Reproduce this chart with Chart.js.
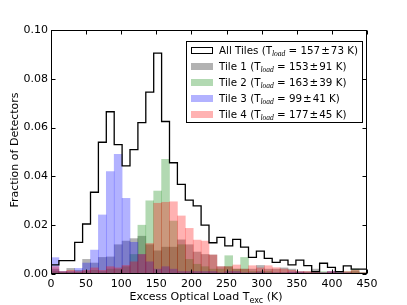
<!DOCTYPE html>
<html>
<head>
<meta charset="utf-8">
<script src="https://cdn.jsdelivr.net/npm/chart.js@4/dist/chart.umd.min.js"></script>
<style>
html,body{margin:0;padding:0;background:#fff;}
#wrap{width:407px;height:305px;position:relative;}
</style>
</head>
<body>
<div id="wrap"><canvas id="c" width="407" height="305"></canvas></div>
<script>
// ---- data (fraction of detectors per 11.25 K bin, 0 .. 450 K) ----
const binStart = 0;
const binWidth = 11.25;
const xTicks = [0, 50, 100, 150, 200, 250, 300, 350, 400, 450];
const yTicks = [0.00, 0.02, 0.04, 0.06, 0.08, 0.10];

const allTiles = [0.013, 0.0037, 0.0055, 0.0055, 0.013, 0.0205, 0.0335, 0.054, 0.0665, 0.053,
                  0.0443, 0.051, 0.062, 0.0745, 0.0905, 0.0625, 0.0456, 0.0367, 0.0303, 0.0279,
                  0.020, 0.0128, 0.015, 0.0115, 0.0142, 0.011, 0.0068, 0.0094, 0.0064, 0.0048,
                  0.0057, 0.0037, 0.0057, 0.0034, 0.001, 0.0044, 0.0027, 0.001, 0.0033, 0.002];
const tile1 = [0.002, 0.001, 0.0023, 0.0015, 0.006, 0.0045, 0.0068, 0.007, 0.012, 0.0135,
               0.0145, 0.0155, 0.012, 0.0095, 0.011, 0.011, 0.014, 0.012, 0.009, 0.008,
               0.0078, 0.003, 0.003, 0.002, 0.002, 0.002, 0.0035, 0.002, 0.002, 0.0025,
               0.002, 0.001, 0.001, 0.002, 0.0005, 0.001, 0.001, 0.0005, 0.001, 0.0005];
const tile2 = [0.001, 0.0007, 0.0007, 0.0007, 0.001, 0.0015, 0.001, 0.002, 0.002, 0.003,
               0.008, 0.020, 0.030, 0.034, 0.047, 0.0217, 0.012, 0.006, 0.004, 0.003,
               0.002, 0.002, 0.0075, 0.002, 0.0068, 0.001, 0.001, 0.001, 0.0005, 0.0005,
               0.0005, 0.0005, 0.0005, 0.0005, 0.001, 0.0005, 0.0005, 0.001, 0.002, 0.0005];
const tile3 = [0.0067, 0.001, 0.001, 0.0023, 0.0045, 0.0098, 0.0242, 0.042, 0.049, 0.031,
               0.013, 0.008, 0.005, 0.002, 0.003, 0.002, 0.001, 0.001, 0.001, 0.001,
               0.001, 0.0005, 0.001, 0.001, 0.0005, 0.0005, 0.0008, 0.0005, 0.0005, 0.0005,
               0.0008, 0.0008, 0.0005, 0.0005, 0.0005, 0.001, 0.0005, 0.0005, 0, 0];
const tile4 = [0.003, 0.001, 0.0015, 0.001, 0.0015, 0.0025, 0.0015, 0.003, 0.0025, 0.0035,
               0.005, 0.008, 0.0125, 0.029, 0.0294, 0.0296, 0.0238, 0.0187, 0.0139, 0.0135,
               0.0078, 0.003, 0.003, 0.0037, 0.002, 0.0034, 0.0025, 0.0034, 0.0026, 0.002,
               0.0015, 0.001, 0.001, 0.001, 0.0005, 0.001, 0.0005, 0.001, 0.0015, 0.0005];

const legendLabels = [
  ['All Tiles (T', 'load', ' = 157\u200a\u00b1\u200a73 K)'],
  ['Tile 1 (T', 'load', ' = 153\u200a\u00b1\u200a91 K)'],
  ['Tile 2 (T', 'load', ' = 163\u200a\u00b1\u200a39 K)'],
  ['Tile 3 (T', 'load', ' = 99\u200a\u00b1\u200a41 K)'],
  ['Tile 4 (T', 'load', ' = 177\u200a\u00b1\u200a45 K)']
];
const xTitle = ['Excess Optical Load T', 'exc', ' (K)'];
const yTitle = 'Fraction of Detectors';

// ---- build library data ----
const centers = allTiles.map((_, i) => binStart + binWidth * (i + 0.5));
const toBars = arr => arr.map((v, i) => ({x: centers[i], y: v}));
const stepPts = allTiles.map((v, i) => ({x: binStart + binWidth * i, y: v}));
stepPts.push({x: binStart + binWidth * allTiles.length, y: allTiles[allTiles.length - 1]});

const colors = ['rgba(0,0,0,0.3)', 'rgba(0,128,0,0.3)', 'rgba(0,0,255,0.3)', 'rgba(255,0,0,0.3)'];
const SANS = '"DejaVu Sans", sans-serif';
const FS = 11;

const barDs = (arr, i) => ({
  type: 'bar', data: toBars(arr), backgroundColor: colors[i], borderWidth: 0,
  barPercentage: 1.0, categoryPercentage: 1.0, grouped: false, order: 4 - i
});

const overlay = {
  id: 'overlay',
  afterDraw(chart) {
    const {ctx, chartArea: a, scales: {x, y}} = chart;
    ctx.save();
    ctx.strokeStyle = '#000';
    ctx.lineWidth = 1;
    const L = Math.round(a.left) + 0.5, R = Math.round(a.right) - 0.5;
    const T = Math.round(a.top) + 0.5, B = Math.round(a.bottom) - 0.5;
    ctx.strokeRect(L, T, R - L, B - T);
    const tl = 4;
    ctx.beginPath();
    xTicks.forEach(v => {
      const px = Math.round(x.getPixelForValue(v)) + 0.5;
      ctx.moveTo(px, B); ctx.lineTo(px, B - tl);
      ctx.moveTo(px, T); ctx.lineTo(px, T + tl);
    });
    yTicks.forEach(v => {
      const py = Math.round(y.getPixelForValue(v)) + 0.5;
      ctx.moveTo(L, py); ctx.lineTo(L + tl, py);
      ctx.moveTo(R, py); ctx.lineTo(R - tl, py);
    });
    ctx.stroke();

    const drawSub = (parts, x0, yb, size, subFont, dy) => {
      let cx = x0;
      ctx.textBaseline = 'alphabetic';
      ctx.textAlign = 'left';
      parts.forEach((p, k) => {
        if (k === 1) {
          ctx.font = subFont;
          ctx.fillText(p, cx, yb + dy);
        } else {
          ctx.font = `${size}px ${SANS}`;
          ctx.fillText(p, cx, yb);
        }
        cx += ctx.measureText(p).width;
      });
      return cx - x0;
    };
    const measureSub = (parts, size, subFont) => {
      let w = 0;
      parts.forEach((p, k) => {
        ctx.font = k === 1 ? subFont : `${size}px ${SANS}`;
        w += ctx.measureText(p).width;
      });
      return w;
    };
    ctx.fillStyle = '#000';
    // x title
    const xsub = `8px ${SANS}`;
    const xw = measureSub(xTitle, FS, xsub);
    drawSub(xTitle, 206 - xw / 2, 300, FS, xsub, 2.5);
    // y title
    ctx.save();
    ctx.translate(15, 150);
    ctx.rotate(-Math.PI / 2);
    ctx.font = `${FS}px ${SANS}`;
    ctx.textAlign = 'center';
    ctx.textBaseline = 'middle';
    ctx.fillText(yTitle, 0, 0);
    ctx.restore();

    // legend
    const lx = 186.5, ly = 41.5, lw = 176, lh = 81;
    ctx.fillStyle = '#fff';
    ctx.fillRect(lx, ly, lw, lh);
    ctx.strokeStyle = '#000';
    ctx.strokeRect(lx, ly, lw, lh);
    const lsub = `italic 7.5px "Liberation Serif", serif`;
    legendLabels.forEach((parts, i) => {
      const cy = 50 + i * 16.1;
      const hx = 191, hw = 21, hh = 6;
      if (i === 0) {
        ctx.strokeStyle = '#000';
        ctx.lineWidth = 1;
        ctx.strokeRect(hx + 0.5, Math.round(cy - hh / 2) + 0.5, hw, hh);
      } else {
        ctx.fillStyle = colors[i - 1];
        ctx.fillRect(hx, Math.round(cy - hh / 2), hw + 1, hh + 1);
      }
      ctx.fillStyle = '#000';
      drawSub(parts, 219, cy + 3.8, 10.3, lsub, 2);
    });
    ctx.restore();
  }
};

new Chart(document.getElementById('c'), {
  data: {
    datasets: [
      {type: 'line', data: stepPts, stepped: 'after', borderColor: '#000', borderWidth: 1.3,
       pointRadius: 0, fill: false, order: 0, borderJoinStyle: 'miter'},
      barDs(tile1, 0), barDs(tile2, 1), barDs(tile3, 2), barDs(tile4, 3)
    ]
  },
  options: {
    responsive: false,
    animation: false,
    events: [],
    layout: {padding: {top: 30, right: 40, left: 0, bottom: 0}},
    plugins: {legend: {display: false}, tooltip: {enabled: false}},
    scales: {
      x: {
        type: 'linear', min: 0, max: 450, offset: false,
        afterBuildTicks: s => { s.ticks = xTicks.map(v => ({value: v})); },
        afterFit: s => { s.height = 31; },
        grid: {display: false, drawTicks: false}, border: {display: false},
        ticks: {color: '#000', padding: 4, maxRotation: 0, font: {family: SANS, size: FS},
                callback: v => String(v)}
      },
      y: {
        min: 0, max: 0.1,
        afterBuildTicks: s => { s.ticks = yTicks.map(v => ({value: v})); },
        afterFit: s => { s.width = 51; },
        grid: {display: false, drawTicks: false}, border: {display: false},
        ticks: {color: '#000', padding: 3, font: {family: SANS, size: FS},
                callback: v => Number(v).toFixed(2)}
      }
    }
  },
  plugins: [overlay]
});
</script>
</body>
</html>
